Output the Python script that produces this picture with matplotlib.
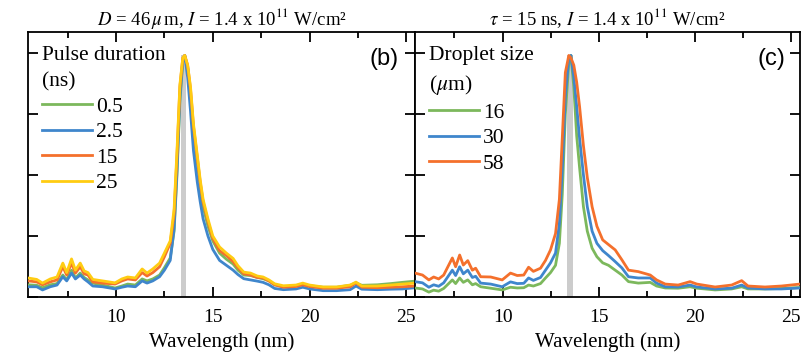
import numpy as np
import matplotlib
matplotlib.use("Agg")
import matplotlib.pyplot as plt
from matplotlib.ticker import MultipleLocator, NullFormatter

plt.rcParams['font.family'] = ['Liberation Serif', 'DejaVu Serif']
plt.rcParams['mathtext.fontset'] = 'stix'

# -------------------------------
# Panel (b): pulse duration scan
# -------------------------------
wl_b = [5.45, 5.9, 6.2, 6.6, 6.95, 7.25, 7.45, 7.7, 7.9, 8.15, 8.35, 8.55, 8.8, 9.3, 9.95,
        10.3, 10.6, 11.0, 11.35, 11.6, 11.9, 12.25, 12.5, 12.8, 13.0, 13.15, 13.3, 13.45,
        13.55, 13.7, 13.85, 14.0, 14.2, 14.35, 14.5, 14.75, 15.0, 15.35, 15.7, 16.05, 16.3,
        16.6, 16.95, 17.3, 17.6, 17.9, 18.2, 18.65, 19.3, 19.65, 20.0, 20.7, 21.4, 22.1,
        22.4, 22.7, 23.5, 24.2, 24.8, 25.45]

pulse_05 = [0.05, 0.048, 0.038, 0.05, 0.055, 0.09, 0.07, 0.11, 0.078, 0.098, 0.08, 0.07, 0.057,
            0.049, 0.037, 0.045, 0.053, 0.049, 0.074, 0.066, 0.074, 0.09, 0.12, 0.16, 0.27,
            0.50, 0.80, 0.96, 0.99, 0.94, 0.83, 0.68, 0.55, 0.45, 0.37, 0.29, 0.23, 0.18,
            0.155, 0.135, 0.11, 0.09, 0.088, 0.08, 0.075, 0.066, 0.05, 0.042, 0.046, 0.052,
            0.046, 0.04, 0.04, 0.048, 0.058, 0.048, 0.05, 0.055, 0.06, 0.065]
pulse_25 = [0.042, 0.042, 0.029, 0.042, 0.049, 0.083, 0.066, 0.098, 0.074, 0.09, 0.074, 0.062,
            0.045, 0.042, 0.033, 0.04, 0.045, 0.042, 0.066, 0.057, 0.066, 0.083, 0.11, 0.15,
            0.28, 0.52, 0.82, 0.97, 0.99, 0.90, 0.76, 0.60, 0.47, 0.39, 0.32, 0.25, 0.195,
            0.15, 0.13, 0.11, 0.092, 0.075, 0.07, 0.065, 0.06, 0.05, 0.035, 0.03, 0.033, 0.04,
            0.033, 0.026, 0.026, 0.03, 0.045, 0.032, 0.03, 0.032, 0.033, 0.038]
pulse_15 = [0.066, 0.062, 0.05, 0.062, 0.07, 0.124, 0.09, 0.139, 0.098, 0.124, 0.095, 0.09,
            0.062, 0.057, 0.053, 0.066, 0.074, 0.07, 0.10, 0.086, 0.10, 0.124, 0.165, 0.22,
            0.34, 0.58, 0.86, 0.98, 0.99, 0.95, 0.85, 0.70, 0.57, 0.47, 0.39, 0.31, 0.24,
            0.19, 0.17, 0.145, 0.12, 0.095, 0.09, 0.08, 0.078, 0.066, 0.05, 0.04, 0.043,
            0.05, 0.043, 0.036, 0.036, 0.042, 0.058, 0.04, 0.038, 0.04, 0.042, 0.045]
pulse_250 = [0.078, 0.072, 0.057, 0.074, 0.082, 0.139, 0.10, 0.156, 0.11, 0.139, 0.107, 0.10,
             0.072, 0.066, 0.058, 0.074, 0.082, 0.078, 0.115, 0.098, 0.115, 0.139, 0.18, 0.23,
             0.36, 0.60, 0.87, 0.98, 0.99, 0.95, 0.86, 0.71, 0.58, 0.48, 0.40, 0.32, 0.25,
             0.205, 0.18, 0.158, 0.128, 0.102, 0.098, 0.086, 0.082, 0.07, 0.054, 0.046, 0.049,
             0.057, 0.049, 0.041, 0.041, 0.049, 0.061, 0.045, 0.045, 0.049, 0.053, 0.057]

pulse_labels = ['0.5', '2.5', '15', '25']

# -------------------------------
# Panel (c): droplet size scan
# -------------------------------
wl_c = [5.45, 5.84, 6.17, 6.42, 6.68, 6.94, 7.39, 7.56, 7.77, 7.96, 8.19, 8.43, 8.6, 8.86, 9.38,
        9.98, 10.41, 10.76, 11.1, 11.35, 11.6, 11.97, 12.23, 12.49, 12.75, 12.95, 13.1, 13.26,
        13.44, 13.55, 13.7, 13.85, 14.0, 14.2, 14.4, 14.65, 14.9, 15.2, 15.5, 15.85, 16.2,
        16.54, 17.05, 17.67, 18.0, 18.45, 19.12, 19.74, 20.09, 21.04, 21.9, 22.42, 22.75,
        23.63, 24.49, 25.45]

drop_16 = [0.037, 0.033, 0.02, 0.028, 0.024, 0.035, 0.07, 0.055, 0.078, 0.06, 0.07, 0.05, 0.055,
           0.042, 0.036, 0.029, 0.04, 0.037, 0.038, 0.049, 0.045, 0.055, 0.078, 0.10, 0.13,
           0.22, 0.42, 0.75, 0.96, 0.99, 0.86, 0.66, 0.53, 0.37, 0.27, 0.20, 0.165, 0.14,
           0.13, 0.11, 0.09, 0.063, 0.057, 0.06, 0.045, 0.037, 0.036, 0.042, 0.036, 0.029,
           0.033, 0.042, 0.033, 0.033, 0.035, 0.039]
drop_30 = [0.063, 0.058, 0.04, 0.05, 0.044, 0.058, 0.11, 0.088, 0.124, 0.095, 0.11, 0.08, 0.085,
           0.057, 0.053, 0.042, 0.062, 0.055, 0.056, 0.078, 0.068, 0.08, 0.11, 0.14, 0.18,
           0.30, 0.52, 0.82, 0.98, 0.99, 0.90, 0.78, 0.65, 0.50, 0.37, 0.27, 0.22, 0.19,
           0.17, 0.145, 0.119, 0.083, 0.078, 0.078, 0.057, 0.042, 0.041, 0.049, 0.041, 0.033,
           0.036, 0.049, 0.037, 0.033, 0.033, 0.037]
drop_58 = [0.098, 0.09, 0.07, 0.082, 0.074, 0.09, 0.16, 0.124, 0.172, 0.131, 0.149, 0.11, 0.118,
           0.083, 0.082, 0.07, 0.098, 0.088, 0.09, 0.122, 0.105, 0.118, 0.15, 0.193, 0.26,
           0.40, 0.65, 0.92, 0.99, 0.98, 0.95, 0.88, 0.78, 0.62, 0.49, 0.37, 0.29, 0.234,
           0.215, 0.193, 0.152, 0.11, 0.104, 0.09, 0.07, 0.053, 0.049, 0.063, 0.053, 0.041,
           0.049, 0.067, 0.045, 0.041, 0.045, 0.053]

drop_labels = ['16', '30', '58']

# in-band (2% bandwidth around 13.5 nm)
band_center = 13.5
band_width = 0.27
band_top = 0.99

c_green = '#7cb85c'
c_blue = '#3f86cc'
c_orange = '#f4702c'
c_yellow = '#ffcc12'

# -------------------------------
# Figure
# -------------------------------
W, H = 809, 355
fig = plt.figure(figsize=(W / 100, H / 100), dpi=100)
ax_b = fig.add_axes([28 / W, 1 - 297 / H, 387 / W, 265 / H])
ax_c = fig.add_axes([415 / W, 1 - 297 / H, 385 / W, 265 / H])


def style_axis(ax):
    ax.set_xlim(5.45, 25.45)
    ax.set_ylim(0, 1.086)
    ax.xaxis.set_major_locator(MultipleLocator(5))
    ax.xaxis.set_minor_locator(MultipleLocator(2.5))
    ax.yaxis.set_major_locator(MultipleLocator(0.25))
    ax.yaxis.set_major_formatter(NullFormatter())
    ax.tick_params(which='both', direction='in', top=True, right=True, width=1.3,
                   labelsize=14, pad=9)
    ax.tick_params(which='major', length=7)
    ax.tick_params(which='minor', length=4)
    for s in ax.spines.values():
        s.set_linewidth(1.3)
    ax.set_xlabel('Wavelength (nm)', fontsize=15, labelpad=4)
    ax.fill_betweenx([0, band_top], band_center - band_width / 2, band_center + band_width / 2,
                     color='#cccccc', lw=0, zorder=1)


style_axis(ax_b)
style_axis(ax_c)

for ys, col, lab in zip([pulse_05, pulse_25, pulse_15, pulse_250],
                        [c_green, c_blue, c_orange, c_yellow], pulse_labels):
    ax_b.plot(wl_b, ys, color=col, lw=2.0, label=lab, zorder=3)

for ys, col, lab in zip([drop_16, drop_30, drop_58],
                        [c_green, c_blue, c_orange], drop_labels):
    ax_c.plot(wl_c, ys, color=col, lw=2.0, label=lab, zorder=3)

leg_kw = dict(loc='upper left', frameon=False, fontsize=15.5, title_fontsize=15.5,
              handlelength=2.3, handletextpad=0.2, labelspacing=0.25, borderaxespad=0.3,
              borderpad=0.35, alignment='left')
for ax, ttl in [(ax_b, 'Pulse duration\n(ns)'), (ax_c, 'Droplet size\n($\\mu$m)')]:
    leg = ax.legend(title=ttl, **leg_kw)
    leg.get_title().set_linespacing(1.5)

ax_b.text(0.957, 0.9, '(b)', transform=ax_b.transAxes, ha='right', va='center',
          fontsize=17, family='Liberation Sans')
ax_c.text(0.962, 0.9, '(c)', transform=ax_c.transAxes, ha='right', va='center',
          fontsize=17, family='Liberation Sans')

ax_b.set_title('$D$ = 46$\\,\\mu\\,$m, $I$ = 1.4 x 10$^{11}$ W/cm²', fontsize=13.5, pad=5)
ax_c.set_title('$\\tau$ = 15 ns, $I$ = 1.4 x 10$^{11}$ W/cm²', fontsize=13.5, pad=5)

fig.savefig('out.png', dpi=100)
